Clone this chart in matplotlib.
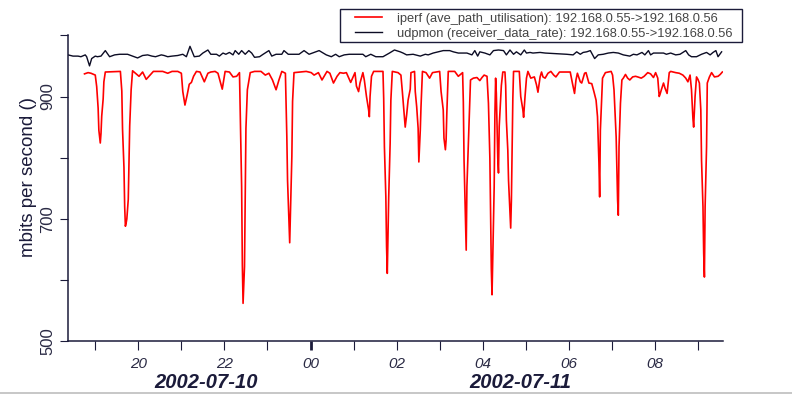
import numpy as np
import matplotlib
matplotlib.use("Agg")
import matplotlib.pyplot as plt
import matplotlib.dates as mdates
from matplotlib.ticker import FuncFormatter
from matplotlib.lines import Line2D
from matplotlib.patches import Rectangle

plt.rcParams['font.family'] = ['Liberation Sans', 'DejaVu Sans']

# iperf (ave_path_utilisation), 2002-07-10 18:45 .. 2002-07-11 09:34
red_times = [
    "18:45", "18:50", "18:54", "19:00", "19:02", "19:04", "19:05", "19:07", "19:08", "19:09", "19:11", "19:12", "19:14",
    "19:35", "19:37", "19:38", "19:40", "19:41", "19:42", "19:43", "19:44", "19:46", "19:47", "19:48", "19:50", "19:52",
    "20:01", "20:06", "20:11", "20:21", "20:34", "20:41", "20:47", "20:55",
    "21:00", "21:02", "21:05", "21:08", "21:11", "21:14", "21:17", "21:21", "21:26", "21:32", "21:37", "21:41", "21:47", "21:51", "21:57",
    "22:01", "22:07", "22:12", "22:17", "22:21", "22:22", "22:24", "22:25", "22:26", "22:28", "22:29", "22:30", "22:32", "22:36", "22:42", "22:51", "22:57",
    "23:02", "23:07", "23:12", "23:16", "23:20", "23:25", "23:27", "23:28", "23:30", "23:31", "23:32", "23:34", "23:35", "23:37", "23:54",
    "00:01", "00:05", "00:11", "00:16", "00:23", "00:27", "00:32", "00:37", "00:41", "00:46", "00:50", "00:56",
    "01:02", "01:04", "01:07", "01:09", "01:13", "01:15", "01:18", "01:21", "01:22", "01:23", "01:25", "01:28", "01:41", "01:42",
    "01:43", "01:45", "01:46", "01:47", "01:48", "01:49", "01:51", "01:52", "01:54",
    "02:02", "02:06", "02:08", "02:11", "02:12", "02:14", "02:16", "02:19", "02:20", "02:25", "02:26", "02:28", "02:30", "02:31",
    "02:33", "02:34", "02:36", "02:41", "02:46", "02:50",
    "03:00", "03:02", "03:05", "03:06", "03:08", "03:09", "03:10", "03:12", "03:21", "03:26", "03:32", "03:33", "03:34", "03:36",
    "03:37", "03:38", "03:40", "03:42", "03:43", "03:47", "03:52", "03:56", "03:59",
    "04:02", "04:06", "04:08", "04:10", "04:11", "04:12", "04:13", "04:14", "04:16", "04:17", "04:18", "04:19", "04:20", "04:21",
    "04:22", "04:23", "04:25", "04:26", "04:28", "04:31", "04:32", "04:33", "04:35", "04:36", "04:38", "04:39", "04:40", "04:41",
    "04:42", "04:43", "04:51", "04:53", "04:56", "04:57", "04:59",
    "05:01", "05:03", "05:07", "05:12", "05:15", "05:17", "05:20", "05:22", "05:24", "05:27", "05:31", "05:35", "05:39", "05:42", "05:47",
    "06:02", "06:05", "06:08", "06:10", "06:12", "06:16", "06:18", "06:22", "06:24", "06:28", "06:32", "06:35", "06:38", "06:40",
    "06:42", "06:43", "06:44", "06:47", "06:51", "06:59",
    "07:01", "07:03", "07:06", "07:08", "07:09", "07:10", "07:12", "07:14", "07:16", "07:19", "07:22", "07:25", "07:29", "07:33",
    "07:36", "07:41", "07:45", "07:50", "07:54", "07:58",
    "08:01", "08:04", "08:06", "08:07", "08:09", "08:12", "08:14", "08:17", "08:20", "08:22", "08:29", "08:34", "08:39", "08:43",
    "08:46", "08:49", "08:51", "08:53", "08:54", "08:56", "08:58",
    "09:00", "09:02", "09:04", "09:05", "09:07", "09:08", "09:09", "09:10", "09:12", "09:13", "09:16", "09:19", "09:23", "09:28",
    "09:31", "09:34",
]
red_mbps = [
    937, 939, 938, 935, 916, 881, 845, 824, 840, 868, 896, 924, 940,
    941, 909, 847, 784, 720, 688, 693, 700, 732, 791, 852, 911, 942,
    933, 940, 928, 941, 941, 938, 941, 941,
    938, 908, 886, 902, 920, 923, 933, 941, 940, 924, 938, 940, 941, 938, 912,
    941, 940, 932, 933, 939, 878, 753, 625, 562, 622, 736, 848, 911, 939, 941, 941, 935,
    938, 927, 911, 927, 941, 938, 834, 763, 698, 661, 710, 802, 892, 939, 941,
    939, 935, 939, 927, 941, 938, 922, 933, 939, 938, 939, 923,
    939, 917, 908, 922, 939, 927, 900, 878, 867, 900, 933, 941, 941, 897,
    818, 736, 655, 611, 671, 736, 824, 894, 941,
    939, 935, 908, 864, 850, 870, 894, 912, 939, 941, 908, 883, 848, 793,
    845, 883, 941, 939, 930, 939,
    941, 908, 878, 832, 813, 829, 873, 941, 941, 933, 939, 891, 796, 698,
    649, 753, 821, 891, 927, 930, 931, 926, 931,
    935, 933, 889, 799, 709, 619, 576, 633, 753, 870, 930, 905, 851, 799,
    775, 851, 896, 918, 940, 940, 918, 861, 812, 763, 709, 685, 731, 818,
    897, 941, 941, 900, 878, 866, 900,
    930, 941, 930, 932, 919, 907, 932, 940, 932, 930, 938, 941, 935, 932, 940,
    940, 922, 905, 927, 938, 924, 922, 938, 939, 922, 921, 908, 894, 867,
    791, 736, 845, 930, 939, 941,
    935, 911, 834, 731, 706, 818, 889, 927, 930, 936, 930, 927, 932, 933,
    932, 930, 933, 939, 937, 931,
    939, 930, 900, 903, 911, 922, 914, 905, 939, 941, 939, 938, 935, 930,
    924, 935, 911, 864, 850, 900, 932,
    928, 922, 878, 796, 720, 644, 605, 720, 818, 922, 932, 939, 932, 933,
    936, 940,
]

# udpmon (receiver_data_rate)
black_times = [
    "18:22", "18:29", "18:36", "18:40", "18:46", "18:48", "18:52", "18:55", "19:00", "19:03", "19:08", "19:14", "19:20", "19:27",
    "19:34", "19:45", "19:52", "19:59",
    "20:06", "20:13", "20:19", "20:24", "20:32", "20:36", "20:41", "20:47", "20:55",
    "21:02", "21:07", "21:12", "21:18", "21:25", "21:30", "21:37", "21:41", "21:49", "21:53", "21:58",
    "22:02", "22:07", "22:12", "22:15", "22:20", "22:24", "22:29", "22:34", "22:38", "22:42", "22:49", "22:54",
    "23:02", "23:06", "23:12", "23:20", "23:23", "23:29", "23:44", "23:51", "23:58",
    "00:05", "00:12", "00:22", "00:29", "00:35", "00:40", "00:47", "00:54",
    "01:13", "01:17", "01:24", "01:31", "01:41", "01:50", "01:57",
    "02:05", "02:09", "02:14", "02:23", "02:33", "02:40", "02:44", "02:51", "02:58",
    "03:05", "03:14", "03:19", "03:26", "03:38", "03:45", "03:49", "03:53", "03:56",
    "04:03", "04:10", "04:15", "04:22", "04:29", "04:33", "04:38", "04:43", "04:47", "04:53", "04:58",
    "05:01", "05:06", "05:10", "05:20", "05:27", "05:57",
    "06:06", "06:11", "06:16", "06:20", "06:25", "06:30", "06:36", "06:41", "06:48", "06:55",
    "07:02", "07:09", "07:16", "07:25", "07:30", "07:35", "07:42", "07:46", "07:51", "07:54", "07:58",
    "08:12", "08:16", "08:22", "08:29", "08:35", "08:43", "08:47", "08:51", "08:58",
    "09:05", "09:12", "09:17", "09:21", "09:25", "09:28", "09:33",
]
black_mbps = [
    968, 966, 966, 965, 968, 965, 950, 962, 966, 965, 966, 975, 965, 968,
    969, 969, 966, 963,
    967, 968, 966, 965, 968, 967, 965, 966, 967,
    969, 965, 982, 965, 966, 971, 976, 969, 969, 966, 971,
    969, 972, 968, 975, 969, 975, 969, 975, 971, 964, 965, 969,
    975, 966, 969, 969, 975, 969, 969, 975, 969,
    972, 975, 968, 965, 969, 965, 968, 969,
    969, 965, 969, 965, 965, 971, 976,
    973, 971, 968, 969, 966, 969, 968, 971, 973,
    975, 975, 973, 971, 971, 968, 975, 966, 973,
    971, 968, 975, 976, 975, 968, 976, 969, 973, 968, 976,
    971, 972, 971, 972, 971, 969,
    968, 973, 969, 972, 973, 975, 962, 968, 969, 971,
    972, 971, 968, 966, 969, 968, 972, 968, 975, 968, 971,
    971, 969, 971, 968, 969, 975, 968, 965, 965,
    969, 972, 968, 972, 975, 965, 973,
]

legend_labels = [
    "iperf (ave_path_utilisation): 192.168.0.55->192.168.0.56",
    "udpmon (receiver_data_rate): 192.168.0.55->192.168.0.56",
]
day_labels = ["2002-07-10", "2002-07-11"]

NAVY = '#1b1b3a'
W, H = 792, 394


def to_dates(times, start='2002-07-10'):
    day = np.datetime64(start, 'D')
    out, prev = [], -1
    for t in times:
        hh, mm = map(int, t.split(':'))
        mins = hh * 60 + mm
        if mins < prev:
            day = day + np.timedelta64(1, 'D')
        prev = mins
        out.append(day + np.timedelta64(mins, 'm'))
    return np.array(out, dtype='datetime64[m]')


fig = plt.figure(figsize=(W / 100, H / 100), dpi=100)
ax = fig.add_axes([68 / W, 1 - 341.3 / H, (722.7 - 68) / W, (341.3 - 35.3) / H])

ax.plot(to_dates(red_times), red_mbps, color='#ff0000', lw=1.2)
ax.plot(to_dates(black_times), black_mbps, color='#0c0c24', lw=1.0)

ax.set_xlim(np.datetime64('2002-07-10T18:22'), np.datetime64('2002-07-11T09:34:30'))
ax.set_ylim(500, 1000)

for s in ['top', 'right']:
    ax.spines[s].set_visible(False)
for s in ['left', 'bottom']:
    ax.spines[s].set_color(NAVY)
    ax.spines[s].set_linewidth(1.1)

ax.xaxis.set_major_locator(mdates.HourLocator(byhour=range(24)))


def hour_fmt(x, pos):
    d = mdates.num2date(x)
    return d.strftime('%H') if d.hour % 2 == 0 else ''


ax.xaxis.set_major_formatter(FuncFormatter(hour_fmt))
ax.tick_params(axis='x', direction='out', length=6.5, width=0.8, color=NAVY,
               pad=5, labelsize=11, labelcolor='#2a2a44')
for lbl in ax.get_xticklabels():
    lbl.set_style('italic')

ax.set_yticks(range(500, 1001, 100))
ax.set_yticklabels(['500', '', '700', '', '900', ''])
ax.tick_params(axis='y', direction='out', length=6, width=0.8, color=NAVY,
               pad=3, labelsize=12, labelcolor='#2a2a44', labelrotation=90)
for lbl in ax.get_yticklabels():
    lbl.set_va('center')

for tick in ax.xaxis.get_major_ticks():
    if mdates.num2date(tick.get_loc()).hour == 0:
        tick.tick1line.set_markeredgewidth(2.0)

fig.text(29 / W, 1 - 177 / H, "mbits per second ()", rotation=90, ha='center',
         va='center', fontsize=13.5, color=NAVY)
fig.text(206 / W, 1 - 383 / H, day_labels[0], ha='center', va='center',
         fontsize=14.5, fontweight='bold', style='italic', color=NAVY)
fig.text(520 / W, 1 - 383 / H, day_labels[1], ha='center', va='center',
         fontsize=14.5, fontweight='bold', style='italic', color=NAVY)

handles = [Line2D([], [], color='#ff0000', lw=1.2), Line2D([], [], color='#0c0c24', lw=1.0)]
fig.legend(handles, legend_labels, loc='upper left', bbox_to_anchor=(355 / W, 1 - 12.5 / H),
           frameon=False, borderpad=0, borderaxespad=0, labelspacing=0.25,
           handlelength=2.1, handletextpad=1.15, fontsize=9.3, labelcolor='#444444')
fig.patches.append(Rectangle((340 / W, 1 - 41.7 / H), (742 - 340) / W, (41.7 - 9) / H,
                             transform=fig.transFigure, fill=False, ec=NAVY, lw=1.0))

fig.lines.append(Line2D([0, 1], [1 - 392.7 / H] * 2, transform=fig.transFigure,
                        color='#bdbdbd', lw=1.2))

fig.savefig('out.png', dpi=100, facecolor='white')
